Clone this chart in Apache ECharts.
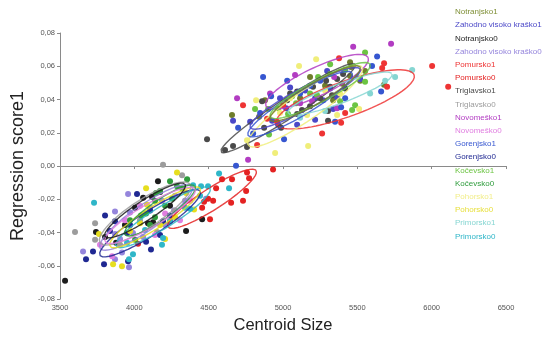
<!DOCTYPE html>
<html><head><meta charset="utf-8">
<script src="https://cdn.jsdelivr.net/npm/echarts@6/dist/echarts.min.js"></script>
<style>html,body{margin:0;padding:0;background:#fff}#c{width:546px;height:339px}</style>
</head><body><div id="c"></div>
<script>
// ---- data ----
const groupNames = ['Notranjsko1','Zahodno visoko kraško1','Notranjsko0','Zahodno visoko kraško0','Pomursko1','Pomursko0','Triglavsko1','Triglavsko0','Novomeško1','Novomeško0','Gorenjsko1','Gorenjsko0','Kočevsko1','Kočevsko0','Pohorsko1','Pohorsko0','Primorsko1','Primorsko0'];
const xTicks = [3500,4000,4500,5000,5500,6000,6500];
const yTicks = [-0.08,-0.06,-0.04,-0.02,0,0.02,0.04,0.06,0.08];

const notranjsko1 = [[5451,0.0624],[5458,0.0595],[5451,0.0542],[5680,0.0489],[5283,0.0483],[5398,0.0495],[5337,0.0395],[4657,0.0307],[4839,0.0296],[4879,0.0395],[5115,0.0407],[5552,0.0571],[5182,0.0536],[5519,0.0513]];
const zahodno1 = [[4664,0.0272],[4779,0.0266],[4927,0.0272],[4967,0.0249],[5021,0.0348],[5048,0.0472],[5095,0.0249],[5216,0.0407],[5270,0.0395],[5364,0.0413],[5337,0.0343],[5216,0.0278],[5519,0.0524],[5297,0.0571],[4980,0.0407],[5149,0.0454]];
const notranjsko0 = [[4159,-0.0091],[4059,-0.0191],[4119,-0.0185],[4092,-0.0344],[4126,-0.0338],[4348,-0.0391],[4456,-0.0320],[3742,-0.0396],[3877,-0.0461],[3534,-0.0690],[3937,-0.0355],[4240,-0.0238],[4005,-0.0250],[4173,-0.0156],[3803,-0.0426]];
const zahodno0 = [[3958,-0.0168],[4186,-0.0209],[4482,-0.0197],[3971,-0.0279],[4207,-0.0355],[4267,-0.0267],[3870,-0.0408],[3991,-0.0402],[3904,-0.0438],[4059,-0.0426],[3655,-0.0514],[3870,-0.0561],[3917,-0.0520],[3964,-0.0608],[3870,-0.0273],[4341,-0.0209],[4106,-0.0250],[4274,-0.0179]];
const pomursko1 = [[5377,0.0648],[6003,0.0601],[5680,0.0618],[5667,0.0589],[5700,0.0477],[4731,0.0366],[4826,0.0126],[4893,0.0284],[4960,0.0266],[5001,0.0366],[5418,0.0319],[5391,0.0260],[5263,0.0196],[6111,0.0477]];
const pomursko0 = [[4590,-0.0080],[4657,-0.0080],[4772,-0.0074],[4550,-0.0133],[4752,-0.0150],[4496,-0.0197],[4530,-0.0209],[4469,-0.0215],[4731,-0.0209],[4651,-0.0221],[4456,-0.0250],[4509,-0.0320],[4240,-0.0332],[4025,-0.0467],[4933,-0.0021],[4758,-0.0039]];
const triglavsko1 = [[4489,0.0161],[4610,0.0096],[4664,0.0120],[4758,0.0114],[4873,0.0231],[4987,0.0231],[4859,0.0389],[5028,0.0395],[5095,0.0313],[5128,0.0337],[5095,0.0448],[5182,0.0360],[5404,0.0554],[5364,0.0524],[5290,0.0513],[5317,0.0477],[5202,0.0477],[5330,0.0425],[5303,0.0272],[5303,0.0331],[5048,0.0436],[5250,0.0407],[5418,0.0466]];
const triglavsko0 = [[4193,0.0008],[4321,-0.0056],[3736,-0.0344],[3736,-0.0443],[4153,-0.0396],[3601,-0.0396],[4274,-0.0267],[3904,-0.0473],[4038,-0.0326]];
const novomesko1 = [[5472,0.0718],[5727,0.0735],[5081,0.0548],[4691,0.0407],[4765,0.0038],[5344,0.0536],[5364,0.0348],[5196,0.0389],[5115,0.0378],[4913,0.0436]];
const novomesko0 = [[4038,-0.0238],[3769,-0.0473],[4139,-0.0414],[4307,-0.0326],[3937,-0.0326],[3850,-0.0543],[4375,-0.0209],[4207,-0.0285]];
const gorenjsko1 = [[5633,0.0659],[5599,0.0601],[5660,0.0448],[4866,0.0536],[4698,0.0231],[4799,0.0196],[5007,0.0161],[4920,0.0419],[5028,0.0513],[5182,0.0483],[5250,0.0513],[5391,0.0354],[5350,0.0266],[4684,0.0002],[5115,0.0436],[5317,0.0466],[4846,0.0319],[5418,0.0407]];
const gorenjsko0 = [[4018,-0.0168],[3870,-0.0332],[4193,-0.0332],[3803,-0.0297],[3836,-0.0391],[3951,-0.0402],[4079,-0.0455],[4112,-0.0502],[3722,-0.0514],[3675,-0.0561],[3796,-0.0590],[3958,-0.0572],[4240,-0.0297],[4106,-0.0267],[3971,-0.0355],[4173,-0.0414]];
const kocevsko1 = [[5552,0.0683],[5317,0.0612],[5418,0.0577],[5552,0.0507],[5236,0.0536],[5229,0.0425],[5485,0.0366],[5465,0.0337],[4812,0.0343],[4900,0.0343],[4967,0.0348],[5061,0.0419],[5088,0.0378],[5034,0.0313],[4906,0.0190],[5182,0.0436],[5384,0.0390],[5317,0.0554]];
const kocevsko0 = [[4355,-0.0080],[4146,-0.0162],[4173,-0.0150],[4287,-0.0121],[4321,-0.0133],[4045,-0.0297],[4079,-0.0285],[4005,-0.0443],[4106,-0.0355],[4207,-0.0238],[4254,-0.0197],[4139,-0.0308],[4240,-0.0091],[4139,-0.0209],[3971,-0.0326]];
const pohorsko1 = [[5223,0.0642],[5108,0.0601],[4819,0.0395],[4758,0.0155],[4947,0.0079],[5169,0.0120],[5162,0.0307],[5364,0.0307],[5512,0.0343],[5048,0.0407],[5384,0.0436],[5283,0.0454],[4980,0.0319]];
const pohorsko0 = [[4287,-0.0039],[4079,-0.0133],[4348,-0.0162],[4402,-0.0262],[4085,-0.0232],[3762,-0.0408],[4207,-0.0438],[3857,-0.0590],[3917,-0.0602],[4038,-0.0344],[4274,-0.0308],[3971,-0.0391],[4173,-0.0355]];
const primorsko1 = [[5869,0.0577],[5687,0.0513],[5499,0.0536],[5283,0.0331],[5586,0.0436],[5754,0.0536],[5115,0.0290]];
const primorsko0 = [[4570,-0.0045],[4637,-0.0133],[4395,-0.0115],[4449,-0.0121],[4496,-0.0121],[3729,-0.0221],[4341,-0.0250],[4375,-0.0256],[4240,-0.0332],[3951,-0.0461],[4186,-0.0473],[4193,-0.0432],[3964,-0.0561],[3991,-0.0531],[4442,-0.0179],[4072,-0.0385]];

const groupData = [notranjsko1,zahodno1,notranjsko0,zahodno0,pomursko1,pomursko0,triglavsko1,triglavsko0,novomesko1,novomesko0,gorenjsko1,gorenjsko0,kocevsko1,kocevsko0,pohorsko1,pohorsko0,primorsko1,primorsko0];

// ellipses: group, centre, end of major half-axis, end of minor half-axis (data units)
const ellipseGroup = ['Pomursko0','Zahodno visoko kraško0','Gorenjsko0','Triglavsko0','Primorsko0','Pohorsko0','Kočevsko0','Novomeško0','Notranjsko0','Pomursko1','Triglavsko1','Novomeško1','Pohorsko1','Gorenjsko1','Zahodno visoko kraško1','Primorsko1','Kočevsko1','Notranjsko1'];
const ellipseCentre = [[4523,-0.0197],[4079,-0.0308],[4106,-0.0344],[4072,-0.0285],[4193,-0.0308],[4139,-0.0308],[4173,-0.0267],[4106,-0.0297],[4072,-0.0267],[5418,0.0401],[5034,0.0348],[5229,0.0507],[5149,0.0360],[5115,0.0372],[5149,0.0407],[5384,0.0436],[5250,0.0454],[5216,0.0436]];
const ellipseMajor = [[4819,-0.0027],[4388,-0.0121],[4442,-0.0150],[4375,-0.0109],[4509,-0.0133],[4442,-0.0133],[4408,-0.0121],[4408,-0.0138],[4341,-0.0109],[5882,0.0548],[5485,0.0612],[5573,0.0653],[5532,0.0595],[5465,0.0560],[5519,0.0583],[5734,0.0554],[5586,0.0612],[5519,0.0595]];
const ellipseMinor = [[4563,-0.0250],[4126,-0.0373],[4153,-0.0402],[4126,-0.0355],[4233,-0.0361],[4180,-0.0361],[4213,-0.0314],[4146,-0.0355],[4112,-0.0314],[5458,0.0301],[5075,0.0301],[5270,0.0431],[5202,0.0290],[5155,0.0313],[5182,0.0348],[5411,0.0384],[5283,0.0395],[5250,0.0384]];

// ---- styles ----
const groupColors = {
 'Notranjsko1':'#6f7d2c','Zahodno visoko kraško1':'#4b48c8','Notranjsko0':'#1c1c1c','Zahodno visoko kraško0':'#9585dc',
 'Pomursko1':'#ee3434','Pomursko0':'#e42222','Triglavsko1':'#4a4a4a','Triglavsko0':'#9c9c9c',
 'Novomeško1':'#b23cc2','Novomeško0':'#e07ee0','Gorenjsko1':'#3656d0','Gorenjsko0':'#1f2892',
 'Kočevsko1':'#6cc443','Kočevsko0':'#2e9c3c','Pohorsko1':'#f0ee7a','Pohorsko0':'#e6de1e',
 'Primorsko1':'#86d6d2','Primorsko0':'#2fb6c8'};
const legendColors = Object.assign({}, groupColors, {'Notranjsko1':'#7f8f36','Pohorsko1':'#f2ee8a','Pohorsko0':'#e8e040'});

function ellipsePoints(c, a, b) {
  const pts = [];
  const ax = a[0]-c[0], ay = a[1]-c[1], bx = b[0]-c[0], by = b[1]-c[1];
  for (let i = 0; i <= 90; i++) {
    const t = i / 90 * Math.PI * 2;
    pts.push([c[0] + ax*Math.cos(t) + bx*Math.sin(t), c[1] + ay*Math.cos(t) + by*Math.sin(t)]);
  }
  return pts;
}

const series = [];
ellipseGroup.forEach((g, i) => {
  series.push({
    name: 'ell_' + i, type: 'line', showSymbol: false, symbol: 'none', silent: true,
    data: ellipsePoints(ellipseCentre[i], ellipseMajor[i], ellipseMinor[i]),
    lineStyle: { color: groupColors[g], width: 1.4, opacity: 0.85 }, z: 3
  });
});
groupNames.forEach((g, i) => {
  series.push({
    name: g, type: 'scatter', data: groupData[i], symbolSize: 6,
    itemStyle: { color: groupColors[g], opacity: 1 }, z: 2
  });
});

const chart = echarts.init(document.getElementById('c'), null, {renderer: 'canvas'});
chart.setOption({
  animation: false,
  backgroundColor: '#ffffff',
  textStyle: { fontFamily: 'Liberation Sans, Arial, sans-serif' },
  grid: { left: 60, right: 40, top: 33, bottom: 33, containLabel: false },
  legend: {
    orient: 'vertical', left: 449, top: 2, itemGap: 3.2, itemWidth: 0, itemHeight: 10,
    icon: 'none', selectedMode: false,
    data: groupNames.map(g => ({ name: g, icon: 'none', textStyle: { color: legendColors[g] } })),
    textStyle: { fontSize: 8, padding: [0,0,0,-4], lineHeight: 10 }
  },
  xAxis: {
    type: 'value', min: xTicks[0], max: xTicks[xTicks.length-1], interval: 500,
    name: 'Centroid Size', nameLocation: 'middle', nameGap: 17,
    nameTextStyle: { fontSize: 16.5, color: '#222' },
    axisLine: { lineStyle: { color: '#8a8a8a' } },
    axisTick: { show: true, length: 3, lineStyle: { color: '#8a8a8a' } },
    axisLabel: { fontSize: 7.5, color: '#555', margin: 5, formatter: v => String(v) },
    splitLine: { show: false }
  },
  yAxis: {
    type: 'value', min: yTicks[0], max: yTicks[yTicks.length-1], interval: 0.02,
    name: 'Regression score1', nameLocation: 'middle', nameGap: 30, nameRotate: 90,
    nameTextStyle: { fontSize: 18, color: '#222' },
    axisLine: { show: true, lineStyle: { color: '#8a8a8a' } },
    axisTick: { show: true, length: 3, lineStyle: { color: '#8a8a8a' } },
    axisLabel: { fontSize: 7.5, color: '#555', margin: 5, formatter: v => v.toFixed(2).replace('.', ',') },
    splitLine: { show: false }
  },
  series: series
});
</script></body></html>
